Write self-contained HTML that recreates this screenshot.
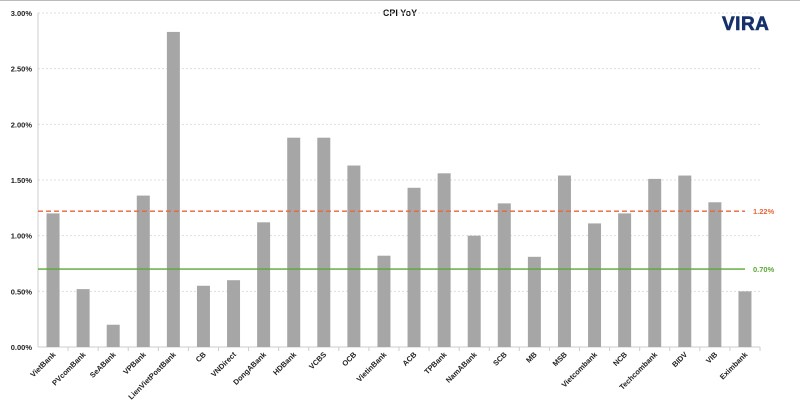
<!DOCTYPE html>
<html><head><meta charset="utf-8"><style>
body{margin:0;background:#fff;font-family:"Liberation Sans",sans-serif}
#wrap{position:relative;width:800px;height:401px;overflow:hidden;border-top:1px solid #bbb;box-sizing:border-box}
</style></head><body>
<div id="wrap">
<svg id="chart" width="800" height="400">
<text x="400" y="15" text-anchor="middle" font-size="9" font-weight="bold" fill="#111" style="font-weight:900">CPI YoY</text>
<g><text x="722" y="29" font-size="19" font-weight="bold" fill="#15306b" stroke="#15306b" stroke-width="0.6" letter-spacing="0.5">VIRA</text></g>
</svg>
</div>
<script>
const categories=["VietBank","PVcomBank","SeABank","VPBank","LienVietPostBank","CB","VNDirect","DongABank","HDBank","VCBS","OCB","VietinBank","ACB","TPBank","NamABank","SCB","MB","MSB","Vietcombank","NCB","Techcombank","BIDV","VIB","Eximbank"];
const values=[1.20,0.52,0.20,1.36,2.83,0.55,0.60,1.12,1.88,1.88,1.63,0.82,1.43,1.56,1.00,1.29,0.81,1.54,1.11,1.20,1.51,1.54,1.30,0.50];
const yTicks=[0,0.5,1.0,1.5,2.0,2.5,3.0];
const refLines=[1.22,0.70];
const NS="http://www.w3.org/2000/svg";
const svg=document.getElementById('chart');
const L=38,R=760,Y0=346,Y3=12;
const y=v=>Y0-(v/3)*(Y0-Y3);
const bw=(R-L)/categories.length;
const x=i=>L+bw*(i+0.5);
function mk(t,a){const e=document.createElementNS(NS,t);for(const k in a)e.setAttribute(k,a[k]);svg.appendChild(e);return e;}
yTicks.forEach(t=>{
 if(t>0){const g=mk('line',{x1:L,x2:R,y1:y(t),y2:y(t),stroke:'#ddd','stroke-dasharray':'2,2'});
 
 }
 const tx=mk('text',{x:L-6,y:y(t)+3,'text-anchor':'end','font-size':'7.5','font-weight':'bold',fill:'#222'});
 tx.textContent=t.toFixed(2)+'%';
 
 
});
const ax=mk('line',{x1:L,x2:L,y1:Y3,y2:Y0,stroke:'#ccc'});


const xa=mk('line',{x1:L,x2:R,y1:Y0,y2:Y0,stroke:'#ccc'});


values.forEach((v,i)=>{
 const b=mk('rect',{x:x(i)-6.5,y:y(v),width:13,height:Y0-y(v),fill:'#a6a6a6'});
 
 
 const tk=mk('line',{x1:L+bw*(i+1),x2:L+bw*(i+1),y1:Y0,y2:Y0+4,stroke:'#ccc'});
 
 
 const t=mk('text',{x:x(i)+3,y:Y0+8,'text-anchor':'end','font-size':'7.5','font-weight':'bold',fill:'#222',transform:`rotate(-45 ${x(i)+3} ${Y0+8})`});
 t.textContent=categories[i];
 
 
});
const colors=['#e8663d','#5aa832'];
refLines.forEach((v,k)=>{
 const l=mk('line',{x1:L,x2:745,y1:y(v),y2:y(v),stroke:colors[k],'stroke-width':1.3});
 if(k===0)l.setAttribute('stroke-dasharray','5,3');
 
 
 const t=mk('text',{x:753,y:y(v)+3,'font-size':'7.5','font-weight':'bold',fill:colors[k]});
 t.textContent=v.toFixed(2)+'%';
 
 
});
</script>
</body></html>
